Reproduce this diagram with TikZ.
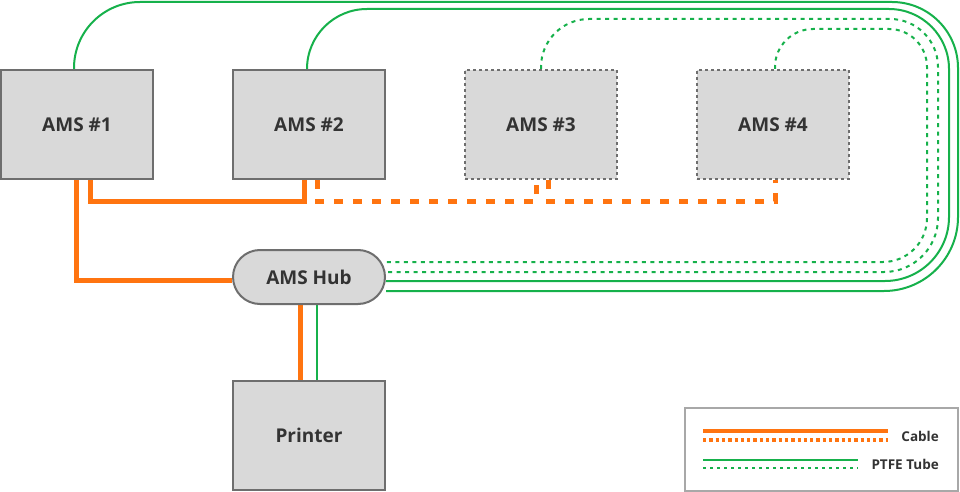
\documentclass[tikz,border=0pt]{standalone}
\usepackage{fontspec}
\setmainfont{Open Sans}
\usepackage{xcolor}
\usetikzlibrary{positioning, backgrounds}

\definecolor{boxfill}{HTML}{D9D9D9}
\definecolor{boxline}{HTML}{6E6E6E}
\definecolor{labelgray}{HTML}{333333}
\definecolor{legendline}{HTML}{A8A8A8}
\definecolor{cableorange}{HTML}{FF7410}
\definecolor{tubegreen}{HTML}{16B14B}

\begin{document}
\begin{tikzpicture}[
    x=1pt, y=-1pt,
    node distance=69pt and 78pt,
    unit/.style={draw=boxline, fill=boxfill, line width=2pt, minimum width=152pt, minimum height=109pt, font=\bfseries\fontsize{19}{23}\selectfont, text=labelgray},
    spare/.style={unit, dash pattern=on 3pt off 3pt},
    hubbox/.style={unit, rounded corners=27pt, minimum height=54pt},
    cable/.style={draw=cableorange, line width=5pt},
    cabledash/.style={cable, dash pattern=on 9pt off 10pt},
    tube/.style={draw=tubegreen, line width=2pt},
    tubedot/.style={tube, dash pattern=on 4pt off 4.5pt},
    legendtext/.style={font=\bfseries\fontsize{13.5}{16}\selectfont, text=labelgray, anchor=east, inner sep=0pt}
]
    \useasboundingbox (0,0) rectangle (960,492);

    \node[unit] (ams1) at (77,124.5) {AMS \#1};
    \node[unit, right=of ams1] (ams2) {AMS \#2};
    \node[spare, right=of ams2] (ams3) {AMS \#3};
    \node[spare, right=of ams3] (ams4) {AMS \#4};
    \node[hubbox, below=of ams2] (hub) {AMS Hub};
    \node[unit, below=75pt of hub] (printer) {Printer};

    \begin{scope}[on background layer]
        \fill[white] (0,0) rectangle (960,492);
        % cables
        \draw[cable] ([xshift=-1pt]ams1.south) |- ([yshift=-3pt]hub.west);
        \draw[cable] ([xshift=13pt]ams1.south) -- ++(0,21) -| ([xshift=-5pt]ams2.south);
        \draw[cabledash] ([xshift=8pt]ams2.south) -- ++(0,21) -| ([xshift=-5pt]ams3.south);
        \draw[cabledash] ([xshift=7pt]ams3.south) -- ++(0,21) -| ([xshift=2pt]ams4.south);
        \draw[cable] ([xshift=-9pt]hub.south) -- ([xshift=-9pt]printer.north);
        % tubes
        \draw[tube] ([xshift=-3pt]ams1.north) [rounded corners=66pt] |- (958,2) [rounded corners=74pt] |- ([yshift=-14pt]hub.east);
        \draw[tube] ([xshift=-2pt]ams2.north) [rounded corners=60pt] |- (949,9) [rounded corners=64pt] |- ([yshift=-4pt]hub.east);
        \draw[tubedot] (ams3.north) [rounded corners=48pt] |- (938,19) [rounded corners=54pt] |- ([yshift=5pt]hub.east);
        \draw[tubedot] ([xshift=2pt]ams4.north) [rounded corners=38pt] |- (927,29) [rounded corners=44pt] |- ([yshift=15pt]hub.east);
        \draw[tube] ([xshift=8pt]hub.south) -- ([xshift=8pt]printer.north);
    \end{scope}

    % legend
    \node[draw=legendline, line width=1.5pt, minimum width=273pt, minimum height=83pt] (legend) at (821.5,449.5) {};
    \node[legendtext] (cablelabel) at (939,436) {Cable};
    \node[legendtext] (tubelabel) at (939,464) {PTFE Tube};
    \coordinate (cablefrom) at (703,431);
    \coordinate (cableto) at (888,431);
    \coordinate (tubefrom) at (703,460);
    \coordinate (tubeto) at (858,460);
    \draw[cable, line width=4pt] (cablefrom) -- (cableto);
    \draw[cable, line width=4pt, dash pattern=on 3.3pt off 3pt] ([yshift=-9pt]cablefrom) -- ([yshift=-9pt]cableto);
    \draw[tube] (tubefrom) -- (tubeto);
    \draw[tube, dash pattern=on 3pt off 4pt] ([yshift=-8pt]tubefrom) -- ([yshift=-8pt]tubeto);
\end{tikzpicture}
\end{document}
